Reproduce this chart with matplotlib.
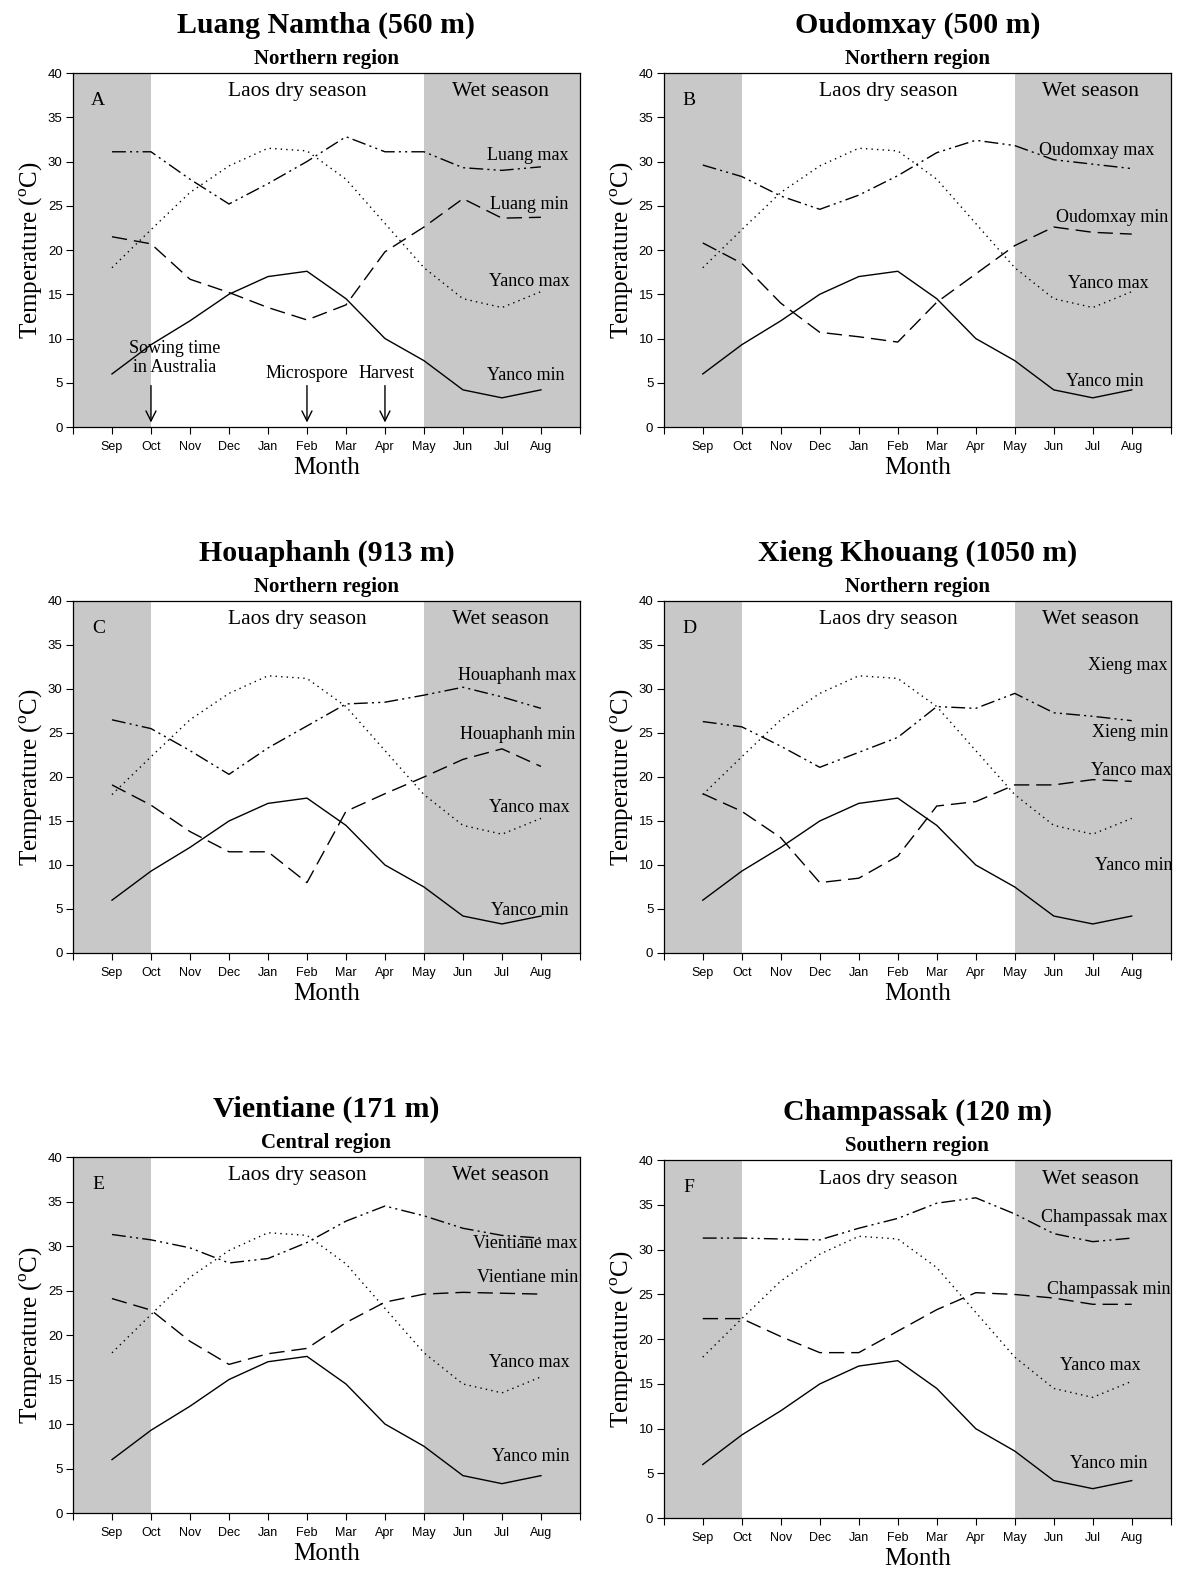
import matplotlib
matplotlib.use("Agg")
import matplotlib.pyplot as plt

months = ["Sep", "Oct", "Nov", "Dec", "Jan", "Feb", "Mar", "Apr", "May", "Jun", "Jul", "Aug"]

yanco_max = [18.0, 22.3, 26.5, 29.5, 31.5, 31.2, 28.0, 23.0, 18.0, 14.5, 13.5, 15.3]
yanco_min = [6.0, 9.3, 12.0, 15.0, 17.0, 17.6, 14.5, 10.0, 7.5, 4.2, 3.3, 4.2]

luang_max = [31.1, 31.1, 28.0, 25.2, 27.5, 30.0, 32.8, 31.1, 31.1, 29.3, 29.0, 29.4]
luang_min = [21.5, 20.7, 16.7, 15.2, 13.5, 12.1, 13.8, 19.8, 22.6, 25.8, 23.6, 23.7]

oudomxay_max = [29.6, 28.3, 26.1, 24.6, 26.2, 28.4, 31.0, 32.4, 31.8, 30.2, 29.7, 29.2]
oudomxay_min = [20.8, 18.5, 14.0, 10.7, 10.2, 9.6, 14.1, 17.3, 20.5, 22.6, 22.0, 21.8]

houaphanh_max = [26.5, 25.5, 23.0, 20.3, 23.3, 25.8, 28.3, 28.5, 29.3, 30.2, 29.1, 27.8]
houaphanh_min = [19.1, 16.8, 13.8, 11.5, 11.5, 8.0, 16.1, 18.1, 20.0, 22.0, 23.2, 21.2]

xieng_max = [26.3, 25.7, 23.5, 21.1, 22.8, 24.5, 28.0, 27.8, 29.5, 27.3, 26.9, 26.4]
xieng_min = [18.1, 16.1, 13.1, 8.0, 8.5, 11.0, 16.7, 17.2, 19.1, 19.1, 19.7, 19.5]

vientiane_max = [31.3, 30.7, 29.8, 28.1, 28.6, 30.4, 32.8, 34.5, 33.4, 32.0, 31.2, 30.9]
vientiane_min = [24.1, 22.8, 19.3, 16.7, 17.9, 18.5, 21.4, 23.7, 24.6, 24.8, 24.7, 24.6]

champassak_max = [31.3, 31.3, 31.2, 31.1, 32.4, 33.5, 35.2, 35.8, 34.0, 31.8, 30.9, 31.3]
champassak_min = [22.3, 22.3, 20.3, 18.5, 18.5, 20.9, 23.3, 25.2, 25.0, 24.6, 23.9, 23.9]

titles = ["Luang Namtha (560 m)", "Oudomxay (500 m)", "Houaphanh (913 m)",
          "Xieng Khouang (1050 m)", "Vientiane (171 m)", "Champassak (120 m)"]
regions = ["Northern region", "Northern region", "Northern region",
           "Northern region", "Central region", "Southern region"]
letters = ["A", "B", "C", "D", "E", "F"]
local_max = [luang_max, oudomxay_max, houaphanh_max, xieng_max, vientiane_max, champassak_max]
local_min = [luang_min, oudomxay_min, houaphanh_min, xieng_min, vientiane_min, champassak_min]
max_names = ["Luang max", "Oudomxay max", "Houaphanh max", "Xieng max", "Vientiane max", "Champassak max"]
min_names = ["Luang min", "Oudomxay min", "Houaphanh min", "Xieng min", "Vientiane min", "Champassak min"]

# label positions (x, y in data units) for: local max, local min, Yanco max, Yanco min
label_pos = [
    [(10.65, 30.7), (10.7, 25.1), (10.7, 16.5), (10.6, 5.8)],
    [(10.1, 31.2), (10.5, 23.7), (10.4, 16.2), (10.3, 5.1)],
    [(10.4, 31.5), (10.4, 24.8), (10.7, 16.5), (10.7, 4.8)],
    [(10.9, 32.7), (10.95, 25.1), (11.0, 20.7), (11.05, 9.9)],
    [(10.6, 30.3), (10.65, 26.5), (10.7, 16.9), (10.75, 6.3)],
    [(10.3, 33.6), (10.4, 25.5), (10.2, 17.1), (10.4, 6.1)],
]

# axes rectangles [left, bottom, width, height] in figure fraction
rects = [
    [0.0619, 0.728, 0.430, 0.2255],
    [0.5630, 0.728, 0.430, 0.2255],
    [0.0619, 0.393, 0.430, 0.2242],
    [0.5630, 0.393, 0.430, 0.2242],
    [0.0619, 0.0363, 0.430, 0.2267],
    [0.5630, 0.0330, 0.430, 0.2280],
]

SERIF = ["Liberation Serif", "DejaVu Serif"]
SANS = ["Liberation Sans", "DejaVu Sans"]
GRAY = "#c8c8c8"

fig = plt.figure(figsize=(11.79, 15.70), dpi=100)
x = list(range(len(months)))

for i in range(6):
    ax = fig.add_axes(rects[i])
    ax.set_xlim(-1, 12)
    ax.set_ylim(0, 40)
    ax.axvspan(-1, 1, color=GRAY, lw=0, zorder=0)
    ax.axvspan(8, 12, color=GRAY, lw=0, zorder=0)

    ax.plot(x, yanco_min, color="black", lw=1.0, ls="-")
    ax.plot(x, yanco_max, color="black", lw=1.0, dashes=(1, 3))
    ax.plot(x, local_max[i], color="black", lw=1.0, dashes=(10, 3, 1.5, 3, 1.5, 3))
    ax.plot(x, local_min[i], color="black", lw=1.0, dashes=(11, 5))

    ax.set_xticks(list(range(-1, 13)))
    ax.set_xticklabels([""] + months + [""], fontfamily=SANS, fontsize=9)
    ax.set_yticks(range(0, 41, 5))
    ax.set_yticklabels([str(v) for v in range(0, 41, 5)], fontfamily=SANS, fontsize=9.5)
    ax.tick_params(direction="out", length=5, width=0.8)
    ax.tick_params(axis="x", pad=5)
    ax.tick_params(axis="y", pad=2.5)
    for s in ax.spines.values():
        s.set_linewidth(0.9)

    ax.set_xlabel("Month", fontfamily=SERIF, fontsize=18, labelpad=3)
    ax.set_ylabel("Temperature ($^{\\mathregular{o}}$C)", fontfamily=SERIF, fontsize=18, labelpad=2)

    ax.text(5.5, 45.4, titles[i], ha="center", va="center", fontfamily=SERIF,
            fontsize=21.5, fontweight="bold")
    ax.text(5.5, 41.6, regions[i], ha="center", va="center", fontfamily=SERIF,
            fontsize=15, fontweight="bold")

    ax.text(4.75, 37.9, "Laos dry season", ha="center", va="center", fontfamily=SERIF, fontsize=15.5)
    ax.text(9.95, 37.9, "Wet season", ha="center", va="center", fontfamily=SERIF, fontsize=15.5)
    ax.text(-0.35, 36.9, letters[i], ha="center", va="center", fontfamily=SERIF, fontsize=14)

    names = [max_names[i], min_names[i], "Yanco max", "Yanco min"]
    for (lx, ly), nm in zip(label_pos[i], names):
        ax.text(lx, ly, nm, ha="center", va="center", fontfamily=SERIF, fontsize=13,
                clip_on=False)

    if i == 0:
        ax.text(1.6, 7.8, "Sowing time\nin Australia", ha="center", va="center",
                fontfamily=SERIF, fontsize=13, linespacing=1.15)
        ax.text(5.0, 6.1, "Microspore", ha="center", va="center", fontfamily=SERIF, fontsize=13)
        ax.text(7.05, 6.1, "Harvest", ha="center", va="center", fontfamily=SERIF, fontsize=13)
        for ax_x in (1, 5, 7):
            ax.annotate("", xy=(ax_x, 0.2), xytext=(ax_x, 5.0),
                        arrowprops=dict(arrowstyle="->", lw=1.0, color="black",
                                        mutation_scale=18))

fig.savefig("out.png", dpi=100)
